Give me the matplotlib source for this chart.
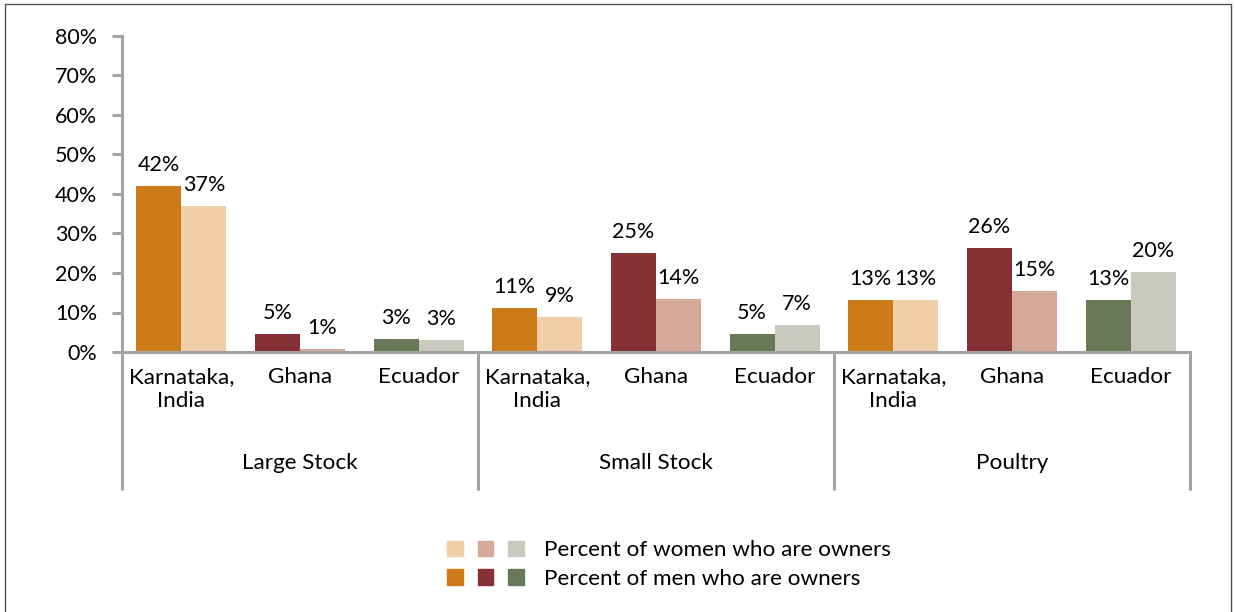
import numpy as np
import matplotlib
matplotlib.use('Agg')
import matplotlib.pyplot as plt
import matplotlib.patches as mpatches
import matplotlib.transforms as mtransforms
from matplotlib.legend_handler import HandlerTuple

plt.rcParams['font.family'] = ['Lato', 'DejaVu Sans']

# data
groups = ['Large Stock', 'Small Stock', 'Poultry']
countries = ['Karnataka,\nIndia', 'Ghana', 'Ecuador']
men = [42.1, 4.6, 3.4, 11.1, 25.1, 4.6, 13.2, 26.3, 13.2]
women = [36.9, 0.8, 3.0, 8.9, 13.4, 6.8, 13.2, 15.4, 20.3]
men_labels = ['42%', '5%', '3%', '11%', '25%', '5%', '13%', '26%', '13%']
women_labels = ['37%', '1%', '3%', '9%', '14%', '7%', '13%', '15%', '20%']
men_colors = ['#CD7A18', '#843034', '#677957']
women_colors = ['#F0CFA8', '#D6A898', '#C9C9BD']
yticks = [0, 10, 20, 30, 40, 50, 60, 70, 80]

axis_col = '#A3A3A3'
fs_num = 15.5
fs_txt = 16.2

fig = plt.figure(figsize=(12.35, 6.12), dpi=100)
ax = fig.add_axes([122 / 1235, 1 - 352 / 612, 1068 / 1235, 316 / 612])

n = len(men)
x = np.arange(n) + 0.5
w = 0.38
mc = [men_colors[i % 3] for i in range(n)]
wc = [women_colors[i % 3] for i in range(n)]
ax.bar(x - w / 2, men, width=w, color=mc, zorder=2)
ax.bar(x + w / 2, women, width=w, color=wc, zorder=2)

for xi, v, lab in zip(x - w / 2, men, men_labels):
    ax.annotate(lab, (xi, v), xytext=(0, 15), textcoords='offset points',
                ha='center', va='center', fontsize=fs_num)
for xi, v, lab in zip(x + w / 2, women, women_labels):
    ax.annotate(lab, (xi, v), xytext=(0, 15), textcoords='offset points',
                ha='center', va='center', fontsize=fs_num)

ax.set_xlim(0, n)
ax.set_ylim(0, 80)
ax.set_yticks(yticks)
ax.set_yticklabels([f'{v}%' for v in yticks])
ax.set_xticks(x)
ax.set_xticklabels(countries * 3, linespacing=1.25)
ax.tick_params(axis='y', length=7, width=2.2, color=axis_col, pad=11, labelsize=fs_num)
ax.tick_params(axis='x', length=0, pad=11, labelsize=fs_txt)

for s in ['top', 'right']:
    ax.spines[s].set_visible(False)
for s in ['left', 'bottom']:
    ax.spines[s].set_color(axis_col)
    ax.spines[s].set_linewidth(2.2)

# group separators and group labels below the axis
trans = mtransforms.blended_transform_factory(ax.transData, ax.transAxes)
depth = -(490 - 352) / 316
for xv in [0, 3, 6, 9]:
    ax.plot([xv, xv], [0, depth], transform=trans, color=axis_col, lw=2.2,
            clip_on=False, solid_capstyle='butt')
for i, g in enumerate(groups):
    ax.text(3 * i + 1.5, -(463 - 352) / 316, g, transform=trans,
            ha='center', va='center', fontsize=fs_txt)

# legend
wh = tuple(mpatches.Patch(color=c) for c in women_colors)
mh = tuple(mpatches.Patch(color=c) for c in men_colors)
fig.legend([wh, mh], ['Percent of women who are owners', 'Percent of men who are owners'],
           handler_map={tuple: HandlerTuple(ndivide=None, pad=0.67)},
           loc='center left', bbox_to_anchor=(447 / 1235, 1 - 564.5 / 612),
           frameon=False, fontsize=fs_txt, handlelength=3.42, handleheight=0.67,
           handletextpad=0.89, labelspacing=0.38, borderpad=0, borderaxespad=0)

# outer border
fig.add_artist(mpatches.Rectangle((5 / 1235, -0.01), 1226 / 1235, 1.01 - 4 / 612,
                                  transform=fig.transFigure, fill=False,
                                  ec='#505050', lw=1))

fig.savefig('out.png', dpi=100)
